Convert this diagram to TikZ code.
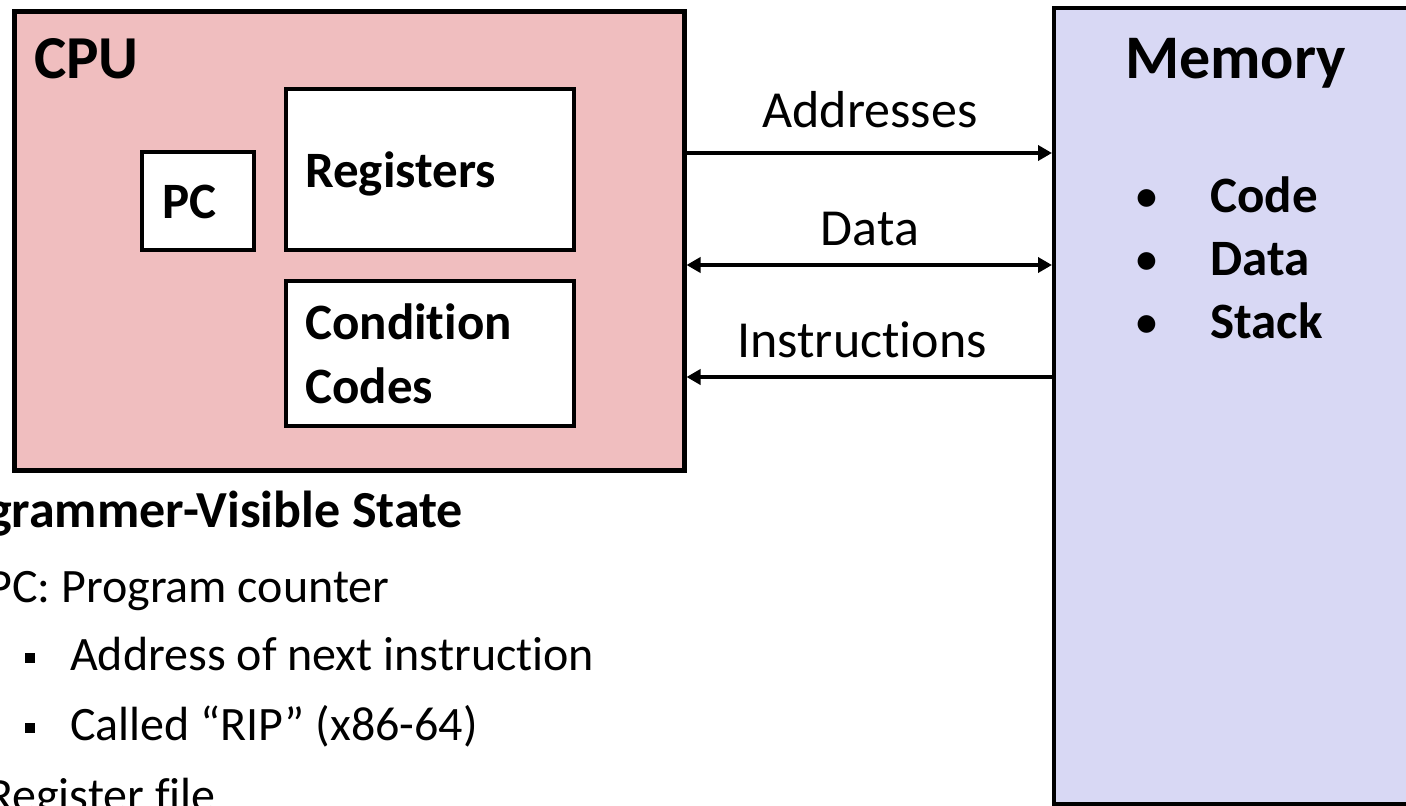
\documentclass[tikz,border=0pt]{standalone}
\usepackage{fontspec}
\setmainfont{Carlito}[Ligatures={NoCommon,NoRequired,NoContextual}]
\usetikzlibrary{arrows.meta}
\definecolor{cpufill}{RGB}{240,190,191}
\definecolor{memfill}{RGB}{216,216,244}
\tikzset{
  blk/.style={draw=black, rectangle, inner sep=0pt},
  inbox/.style={blk, fill=white, line width=4pt},
  txt/.style={inner sep=0pt, anchor=base west, text=black},
  lab/.style={inner sep=0pt, anchor=base, font=\fontsize{52}{60}\selectfont},
  conn/.style={line width=3.6pt, >={Triangle[length=14pt,width=15pt]}},
}
\begin{document}
\begin{tikzpicture}[x=1pt,y=-1pt]
\useasboundingbox (0,0) rectangle (1406,806);
\clip (0,0) rectangle (1406,806);
% CPU
\node[blk, fill=cpufill, line width=5pt, minimum width=670pt, minimum height=459pt] (cpu) at (349,240.5) {};
\node[txt, font=\fontsize{61}{70}\selectfont\bfseries] (cputxt) at (34,78) {CPU};
\node[inbox, minimum width=112pt, minimum height=98pt] (pc) at (198,201) {};
\node[txt, font=\fontsize{51}{60}\selectfont\bfseries] (pctxt) at (162,218) {PC};
\node[inbox, minimum width=288pt, minimum height=161pt] (reg) at (430,169.5) {};
\node[txt, font=\fontsize{51}{60}\selectfont\bfseries] (regtxt) at (305,187) {Registers};
\node[inbox, minimum width=288pt, minimum height=145pt] (cc) at (430,353) {};
\node[txt, font=\fontsize{51}{60}\selectfont\bfseries] (cctxt1) at (305,339) {Condition};
\node[txt, font=\fontsize{51}{60}\selectfont\bfseries] (cctxt2) at (305,403) {Codes};
% Memory (open on the right, runs past the edge)
\node[rectangle, inner sep=0pt, outer sep=0pt, fill=memfill, minimum width=400pt, minimum height=796pt] (mem) at (1254,406) {};
\draw[line width=4pt] (mem.north east) -- (mem.north west) -- (mem.south west) -- (mem.south east);
\node[txt, font=\fontsize{62}{70}\selectfont\bfseries] (memtxt) at (1125,78) {Memory};
\node[inner sep=0pt, anchor=base, font=\fontsize{50}{60}\selectfont] (b1) at (1147,212) {•};
\node[inner sep=0pt, anchor=base, font=\fontsize{50}{60}\selectfont] (b2) at (1147,275) {•};
\node[inner sep=0pt, anchor=base, font=\fontsize{50}{60}\selectfont] (b3) at (1147,338) {•};
\node[txt, font=\fontsize{51}{60}\selectfont\bfseries] (m1) at (1210,212) {Code};
\node[txt, font=\fontsize{51}{60}\selectfont\bfseries] (m2) at (1210,275) {Data};
\node[txt, font=\fontsize{51}{60}\selectfont\bfseries] (m3) at (1210,338) {Stack};
% connectors
\coordinate (yA) at (0,153);
\coordinate (yD) at (0,265);
\coordinate (yI) at (0,377);
\draw[conn, ->, shorten >=2pt] (cpu.east |- yA) -- (mem.west |- yA);
\draw[conn, <->, shorten >=2pt] (cpu.east |- yD) -- (mem.west |- yD);
\draw[conn, <-, shorten >=2pt] (cpu.east |- yI) -- (mem.west |- yI);
\node[lab] (la) at (870,127) {Addresses};
\node[lab] (ld) at (870,245) {Data};
\node[lab] (li) at (862,357) {Instructions};
% bottom text
\node[txt, font=\fontsize{52}{60}\selectfont\bfseries] (h) at (-13,527) {grammer-Visible State};
\node[txt, font=\fontsize{48}{56}\selectfont] (t1) at (-13,602) {PC: Program counter};
\fill (25,653) rectangle (35,663);
\node[txt, font=\fontsize{48}{56}\selectfont] (t2) at (70,670) {Address of next instruction};
\fill (25,723) rectangle (35,733);
\node[txt, font=\fontsize{48}{56}\selectfont] (t3) at (70,740) {Called “RIP” (x86-64)};
\node[txt, font=\fontsize{48}{56}\selectfont] (t4) at (-13,811) {Register file};
\end{tikzpicture}
\end{document}
